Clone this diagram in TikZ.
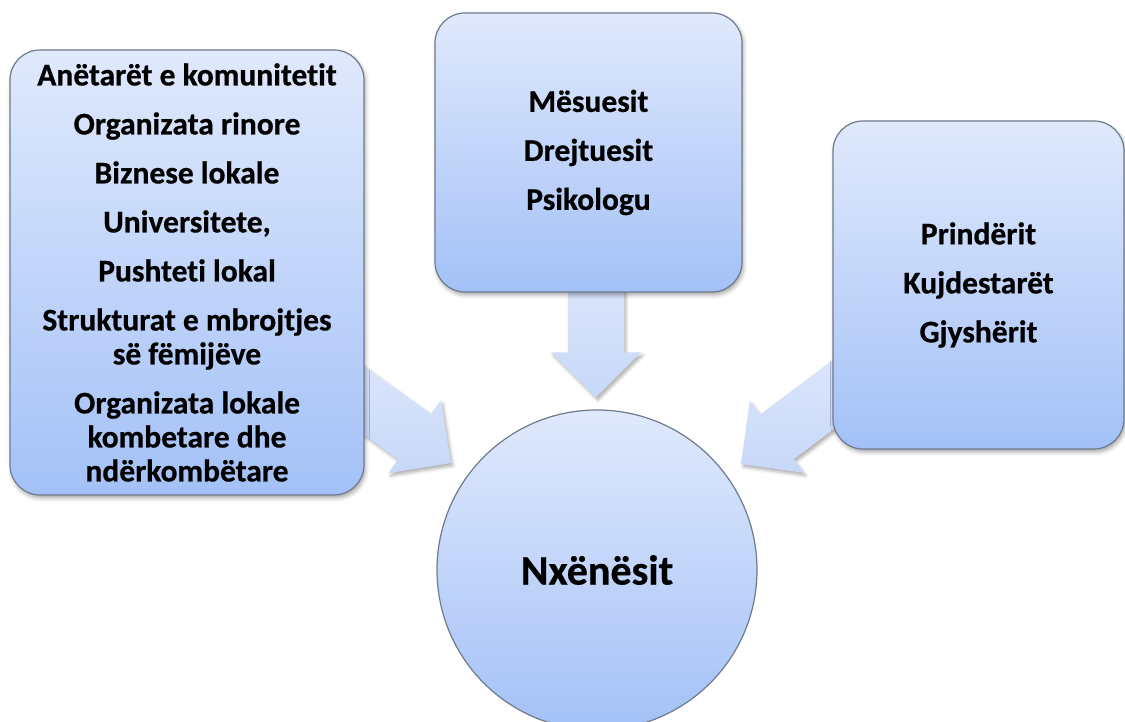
\documentclass[tikz,border=0pt]{standalone}
\usepackage{fontspec}
\setmainfont{Carlito}[Ligatures=NoCommon, BoldFeatures={FakeBold=0.6}]
\usetikzlibrary{arrows.meta,shadows.blur,backgrounds,calc}

\definecolor{boxtop}{HTML}{E0E9FC}
\definecolor{boxbottom}{HTML}{A3C1F7}
\definecolor{boxline}{HTML}{6E7B8C}
\definecolor{arrowtop}{HTML}{DCE6FB}
\definecolor{arrowbottom}{HTML}{C7D8F8}

\newcommand{\listfont}{\fontsize{31.5}{34}\selectfont\bfseries}
\newcommand{\pupilfont}{\fontsize{42}{50}\selectfont\bfseries}

% block arrow from tail #1 to tip #2
\newcommand{\blockarrow}[2]{%
  \coordinate (#1-base) at ($(#2)!45pt!(#1)$);
  \path[fatarrow] ($(#1)!28pt!90:(#2)$) -- ($(#1-base)!28pt!90:(#2)$)
    -- ($(#1-base)!45pt!90:(#2)$) -- (#2) -- ($(#1-base)!45pt!-90:(#2)$)
    -- ($(#1-base)!28pt!-90:(#2)$) -- ($(#1)!28pt!-90:(#2)$) -- cycle;}

\tikzset{
  groupbox/.style={rectangle, rounded corners=30pt, draw=boxline, line width=1.2pt,
    top color=boxtop, bottom color=boxbottom, align=center, inner sep=0pt,
    font=\listfont,
    blur shadow={shadow xshift=1.5pt, shadow yshift=-3pt, shadow blur radius=4pt, shadow opacity=35}},
  pupilnode/.style={circle, draw=boxline, line width=1.2pt, top color=boxtop,
    bottom color=boxbottom, minimum size=320pt, inner sep=0pt, font=\pupilfont},
  fatarrow/.style={top color=arrowtop, bottom color=arrowbottom,
    blur shadow={shadow xshift=2pt, shadow yshift=-3pt, shadow blur radius=3pt, shadow opacity=30}},
}

\begin{document}
\begin{tikzpicture}[x=1pt, y=1pt]
  \useasboundingbox (0,0) rectangle (1125,722);

  % the three groups and the pupils
  \node[groupbox, minimum width=354pt, minimum height=445pt] (community) at (187,449.5)
    {Anëtarët e komunitetit\\[15pt]Organizata rinore\\[15pt]Biznese lokale\\[15pt]Universitete,\\[15pt]Pushteti lokal\\[15pt]Strukturat e mbrojtjes\\së fëmijëve\\[15pt]Organizata lokale\\kombetare dhe\\ndërkombëtare};
  \node[groupbox, minimum width=307pt, minimum height=279pt] (school) at (588.5,569.5)
    {Mësuesit\\[15pt]Drejtuesit\\[15pt]Psikologu};
  \node[groupbox, minimum width=291pt, minimum height=328pt] (family) at (978.5,437)
    {Prindërit\\[15pt]Kujdestarët\\[15pt]Gjyshërit};
  \node[pupilnode] (pupil) at (597,152) {Nxënësit};

  \coordinate (ctip) at ($(pupil.center)+(-146,107)$);
  \coordinate (stip) at ($(pupil.north)+(-1,12)$);
  \coordinate (ftip) at ($(pupil.center)+(144,106)$);
  \coordinate (ctail) at ($(ctip)!150pt!(community.center)$);
  \coordinate (stail) at ($(stip)+(0,130)$);
  \coordinate (ftail) at ($(ftip)!150pt!(family.center)$);

  % block arrows behind the boxes
  \begin{scope}[on background layer]
    \blockarrow{ctail}{ctip}
    \blockarrow{stail}{stip}
    \blockarrow{ftail}{ftip}
  \end{scope}
\end{tikzpicture}
\end{document}
